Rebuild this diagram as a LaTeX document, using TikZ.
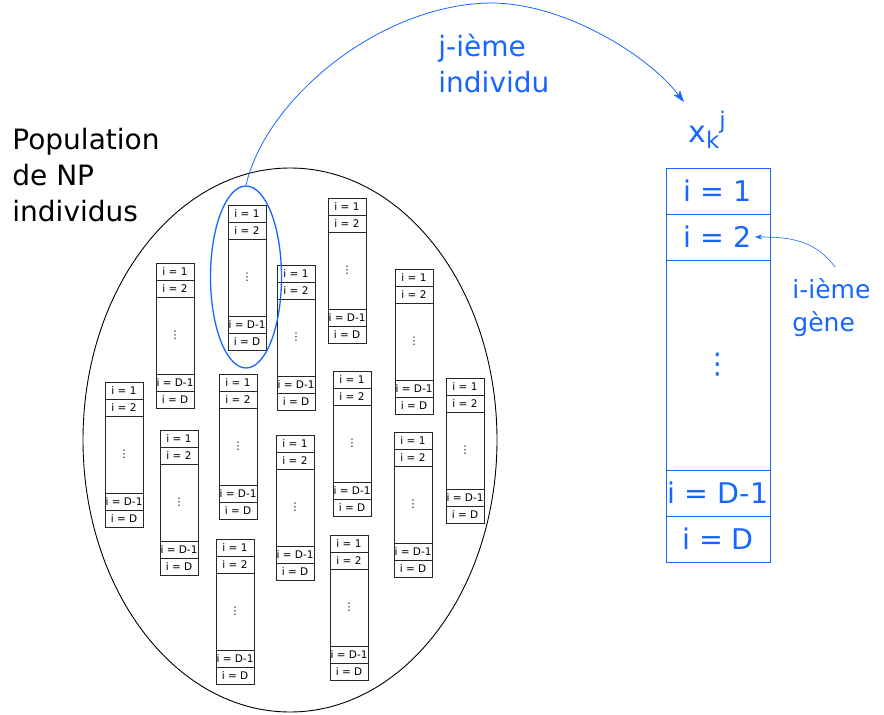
\documentclass[tikz,border=0pt]{standalone}
\usepackage{fontspec}
\setmainfont{DejaVu Sans}
\usetikzlibrary{arrows.meta, positioning, calc, shapes.geometric}
\definecolor{geneblue}{RGB}{22,102,255}
\tikzset{
    population/.style={x=1pt, y=-1pt, >=Stealth, line width=0.8pt},
    gene/.style={draw=black!85, line width=0.9pt, minimum width=38pt, minimum height=17pt,
        inner sep=0pt, outer sep=0pt, font=\fontsize{10.5}{12}\selectfont},
    genedots/.style={gene, minimum height=77pt},
    biggene/.style={draw=geneblue, text=geneblue, line width=0.8pt, minimum width=104pt,
        minimum height=46pt, inner sep=0pt, outer sep=0pt, font=\fontsize{28.5}{30}\selectfont},
    biggenedots/.style={biggene, minimum height=210pt},
    caption/.style={align=left, inner sep=0pt, anchor=north west, font=\fontsize{28}{36}\selectfont},
    bluecaption/.style={caption, text=geneblue},
}
\begin{document}
\begin{tikzpicture}[population]
    \useasboundingbox (0,0) rectangle (884,715);

    % la population
    \node[ellipse, draw, line width=0.9pt, minimum width=414pt, minimum height=544pt] (pop) at (290,440) {};
    \node[caption] (poptext) at (12,128) {Population\\de NP\\individus};

    \foreach \n/\x/\y in {1/105/382, 2/156/263, 3/160/430, 4/228/205, 5/219/374, 6/216/539, 7/277/265,
        8/276/435, 9/328/198, 10/333/371, 11/330/535, 12/395/269, 13/394/432, 14/446/378} {
        \node[gene, anchor=north west] (c\n-1) at (\x,\y) {i = 1};
        \node[gene, below=0pt of c\n-1]  (c\n-2)  {i = 2};
        \node[genedots, below=0pt of c\n-2] (c\n-m) {⋮};
        \node[gene, below=0pt of c\n-m]  (c\n-d1) {i = D-1};
        \node[gene, below=0pt of c\n-d1] (c\n-d)  {i = D};
    }

    \node[ellipse, draw=geneblue, line width=1.3pt, minimum width=71pt, minimum height=182pt, inner sep=0pt] (choix) at (246,277) {};

    % l'individu choisi
    \node[text=geneblue, inner sep=0pt, anchor=base west, font=\fontsize{30}{36}\selectfont] (xkj) at (688,142)
        {x\raisebox{-6pt}{\fontsize{23}{24}\selectfont k}\raisebox{14pt}{\fontsize{23}{24}\selectfont j}};
    \node[biggene, anchor=north west] (x-1) at (666,168) {i = 1};
    \node[biggene, below=0pt of x-1]     (x-2)  {i = 2};
    \node[biggenedots, below=0pt of x-2] (x-m)  {⋮};
    \node[biggene, below=0pt of x-m]     (x-d1) {i = D-1};
    \node[biggene, below=0pt of x-d1]    (x-d)  {i = D};

    \node[bluecaption] (jtext) at (438,34) {j-ième\\individu};
    \node[bluecaption, font=\fontsize{25}{33}\selectfont] (itext) at (792,278) {i-ième\\gène};

    \draw[-{Stealth[length=12pt, width=8pt, inset=3pt]}, geneblue, line width=0.8pt]
        (choix.north) .. controls (265,100) and (380,3) .. (493,3)
        .. controls (565,4) and (648,55) .. ($(xkj.north west)+(-4,-8)$);
    \draw[-{Stealth[length=7pt, width=5pt, inset=2pt]}, geneblue, line width=0.6pt]
        ($(itext.north west)+(43,-11)$) .. controls (815,240) and (790,237) .. ($(x-2.east)+(-15,0)$);
\end{tikzpicture}
\end{document}
